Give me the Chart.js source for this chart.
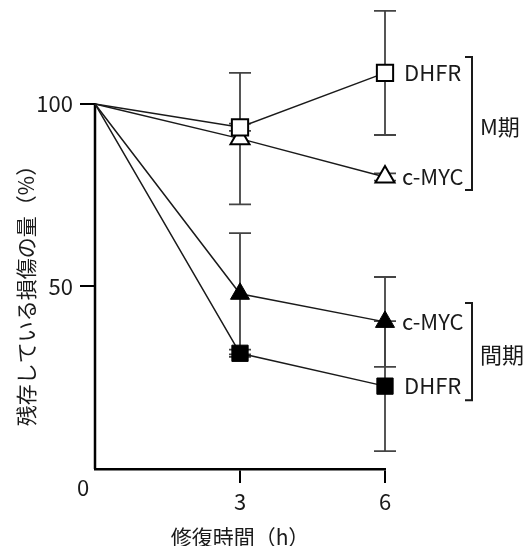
<!DOCTYPE html>
<html>
<head>
<meta charset="utf-8">
<script src="https://cdn.jsdelivr.net/npm/chart.js@4"></script>
<style>
  body { margin: 0; background: #fff; }
</style>
</head>
<body>
<canvas id="c" width="527" height="546"></canvas>
<script>
// 修復時間 (h)
var times = [0, 3, 6];

// M期
var mDhfr = [100, 93.6, 108.5];
var mDhfrErr = [0, 1, 17];
var mMyc = [100, 90.5, 80];
var mMycErr = [0, 18, 1];

// 間期
var iDhfr = [100, 31.7, 22.7];
var iDhfrErr = [0, 1, 17.8];
var iMyc = [100, 48, 40.3];
var iMycErr = [0, 16.6, 12.3];

var yTicks = [0, 50, 100];
var xTicks = [0, 3, 6];
var yAxisTop = 100;

var FONT = "'Noto Sans CJK JP', 'DejaVu Sans', sans-serif";
var INK = '#1a1a1a';

function pts(ys) {
  return times.map(function (t, i) { return {x: t, y: ys[i]}; });
}

function series(ys, errs, shape, filled, r) {
  return {
    data: pts(ys),
    errs: errs,
    borderColor: INK,
    borderWidth: 1.5,
    pointStyle: shape,
    pointRadius: function (ctx) { return ctx.dataIndex === 0 ? 0 : r; },
    pointBackgroundColor: filled ? '#000' : '#fff',
    pointBorderColor: '#000',
    pointBorderWidth: filled ? 1 : 2,
    clip: false,
    tension: 0
  };
}

// エラーバー + 縦軸の線
var errorBars = {
  id: 'errorBars',
  beforeDatasetsDraw: function (chart) {
    var ctx = chart.ctx, xs = chart.scales.x, ys = chart.scales.y;
    ctx.save();
    ctx.strokeStyle = '#000';
    ctx.lineWidth = 2.5;
    ctx.beginPath();
    ctx.moveTo(xs.getPixelForValue(0), ys.getPixelForValue(0));
    ctx.lineTo(xs.getPixelForValue(0), ys.getPixelForValue(yAxisTop) - 1);
    ctx.stroke();

    ctx.strokeStyle = '#444';
    ctx.lineWidth = 1.8;
    chart.data.datasets.forEach(function (ds) {
      ds.data.forEach(function (p, i) {
        var e = ds.errs[i];
        if (!e) return;
        var x = xs.getPixelForValue(p.x);
        var y1 = ys.getPixelForValue(p.y + e);
        var y2 = ys.getPixelForValue(p.y - e);
        ctx.beginPath();
        ctx.moveTo(x, y1); ctx.lineTo(x, y2);
        ctx.moveTo(x - 11, y1); ctx.lineTo(x + 11, y1);
        ctx.moveTo(x - 11, y2); ctx.lineTo(x + 11, y2);
        ctx.stroke();
      });
    });
    ctx.restore();
  }
};

// 系列名と括弧
var labels = {
  id: 'labels',
  afterDraw: function (chart) {
    var ctx = chart.ctx, xs = chart.scales.x, ys = chart.scales.y;
    var xr = xs.getPixelForValue(6);
    ctx.save();
    ctx.fillStyle = INK;
    ctx.font = '22px ' + FONT;
    ctx.textBaseline = 'middle';
    ctx.textAlign = 'left';
    ctx.fillText('DHFR', xr + 19, ys.getPixelForValue(mDhfr[2]));
    ctx.fillText('c-MYC', xr + 17, ys.getPixelForValue(mMyc[2]));
    ctx.fillText('c-MYC', xr + 17, ys.getPixelForValue(iMyc[2]));
    ctx.fillText('DHFR', xr + 19, ys.getPixelForValue(iDhfr[2]));

    ctx.fillText('0', xs.getPixelForValue(0) - 18, ys.getPixelForValue(0) + 19);

    function bracket(top, bot, text) {
      var bx = xr + 87;
      ctx.strokeStyle = INK;
      ctx.lineWidth = 2;
      ctx.beginPath();
      ctx.moveTo(bx - 7, top); ctx.lineTo(bx, top); ctx.lineTo(bx, bot); ctx.lineTo(bx - 7, bot);
      ctx.stroke();
      ctx.fillText(text, bx + 8, (top + bot) / 2 + 3);
    }
    bracket(ys.getPixelForValue(mDhfr[2]) - 16, ys.getPixelForValue(mMyc[2]) + 13, 'M期');
    bracket(ys.getPixelForValue(iMyc[2]) - 19, ys.getPixelForValue(iDhfr[2]) + 14, '間期');

    // 縦軸タイトル
    ctx.save();
    ctx.translate(26, (ys.getPixelForValue(0) + ys.getPixelForValue(yAxisTop)) / 2 + 4);
    ctx.rotate(-Math.PI / 2);
    ctx.textAlign = 'center';
    ctx.textBaseline = 'middle';
    ctx.font = '21px ' + FONT;
    ctx.fillText('残存している損傷の量（%）', 0, 0);
    ctx.restore();
    ctx.restore();
  }
};

new Chart(document.getElementById('c'), {
  type: 'line',
  data: {
    datasets: [
      series(mDhfr, mDhfrErr, 'rect', false, 11.5),
      series(mMyc, mMycErr, 'triangle', false, 11),
      series(iDhfr, iDhfrErr, 'rect', true, 11.5),
      series(iMyc, iMycErr, 'triangle', true, 11)
    ]
  },
  options: {
    responsive: false,
    animation: false,
    devicePixelRatio: 1,
    layout: { autoPadding: false, padding: { top: 1, right: 142, left: 0, bottom: 0 } },
    plugins: { legend: { display: false }, tooltip: { enabled: false } },
    scales: {
      x: {
        type: 'linear',
        min: 0, max: 6,
        afterFit: function (s) { s.height = 77; },
        afterBuildTicks: function (s) { s.ticks = xTicks.map(function (v) { return {value: v}; }); },
        ticks: {
          color: INK,
          font: { family: FONT, size: 22 },
          padding: 5,
          maxRotation: 0,
          callback: function (v) { return v === 0 ? '' : String(v); }
        },
        grid: {
          drawOnChartArea: false,
          tickLength: 14,
          lineWidth: 2,
          color: function (c) { return c.tick && c.tick.value === 0 ? 'rgba(0,0,0,0)' : '#000'; }
        },
        border: { display: true, color: '#000', width: 2.5 },
        title: {
          display: true,
          text: '修復時間（h）',
          color: INK,
          font: { family: FONT, size: 21 },
          padding: { top: 0, bottom: -4 }
        }
      },
      y: {
        min: 0, max: 128.2,
        afterFit: function (s) { s.width = 95; s.paddingTop = 0; s.paddingBottom = 0; },
        afterBuildTicks: function (s) { s.ticks = yTicks.map(function (v) { return {value: v}; }); },
        ticks: {
          color: INK,
          font: { family: FONT, size: 22 },
          padding: 7,
          callback: function (v) { return v === 0 ? '' : String(v); }
        },
        grid: {
          drawOnChartArea: false,
          tickLength: 15,
          lineWidth: 2,
          color: function (c) { return c.tick && c.tick.value === 0 ? 'rgba(0,0,0,0)' : '#000'; }
        },
        border: { display: false }
      }
    }
  },
  plugins: [errorBars, labels]
});
</script>
</body>
</html>
